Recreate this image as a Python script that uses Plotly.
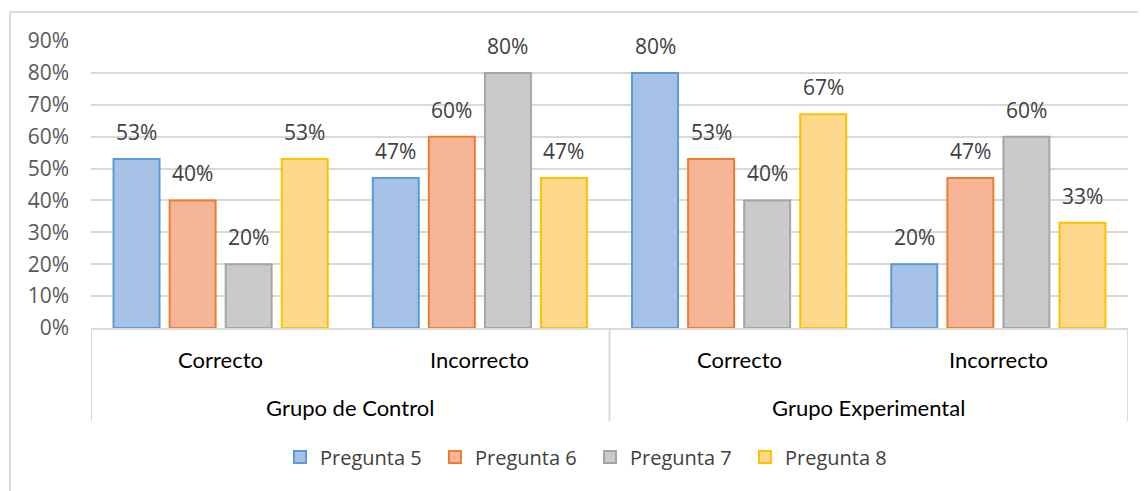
import plotly.graph_objects as go

# ---- data ----
categories = ["Control|Correcto", "Control|Incorrecto", "Experimental|Correcto", "Experimental|Incorrecto"]
sub_labels = ["Correcto", "Incorrecto", "Correcto", "Incorrecto"]
group_labels = ["Grupo de Control", "Grupo Experimental"]
group_centers = [0.5, 2.5]
series_names = ["Pregunta 5", "Pregunta 6", "Pregunta 7", "Pregunta 8"]
pregunta5 = [0.53, 0.47, 0.80, 0.20]
pregunta6 = [0.40, 0.60, 0.53, 0.47]
pregunta7 = [0.20, 0.80, 0.40, 0.60]
pregunta8 = [0.53, 0.47, 0.67, 0.33]
series_values = [pregunta5, pregunta6, pregunta7, pregunta8]
y_ticks = [0, 0.1, 0.2, 0.3, 0.4, 0.5, 0.6, 0.7, 0.8, 0.9]

# ---- styles ----
fills = ["#a6c3e7", "#f6b597", "#cacaca", "#fed98b"]
borders = ["#5b9bd5", "#ed7d31", "#a5a5a5", "#ffc000"]
OFF = 8  # page body margin
W, H = 1146, 491
ML, MT = 91 - OFF, 41 - OFF
plot_w = 1128 - 91
plot_h = 328 - 41
MR = W - ML - plot_w
MB = H - MT - plot_h
BARGAP = 0.135
BARGROUPGAP = 0.18
slot_px = plot_w / len(categories) * (1 - BARGAP) / len(series_names)

num_font = "Open Sans, sans-serif"
cat_font = "Lato, sans-serif"

fig = go.Figure()
for i, (name, vals) in enumerate(zip(series_names, series_values)):
    fig.add_trace(go.Bar(
        name=name, x=categories, y=vals,
        marker=dict(color=fills[i], line=dict(color=borders[i], width=2)),
        hoverinfo="skip",
    ))
    for cat, v in zip(categories, vals):
        fig.add_annotation(
            x=cat, y=v, xref="x", yref="y", text=f"{round(v*100):d}%",
            showarrow=False, xshift=(i - 1.5) * slot_px, yshift=27,
            yanchor="middle", font=dict(family=num_font, size=21, color="#404040"),
        )

# category labels
for cat, lab in zip(categories, sub_labels):
    fig.add_annotation(x=cat, y=-31 / plot_h, xref="x", yref="paper", text=lab,
                       showarrow=False, yanchor="middle",
                       font=dict(family=cat_font, size=22, color="#000000"))
for gx, lab in zip(group_centers, group_labels):
    fig.add_annotation(x=gx, y=-79 / plot_h, xref="x", yref="paper", text=lab,
                       showarrow=False, yanchor="middle",
                       font=dict(family=cat_font, size=22, color="#000000"))

line_col = "#d9d9d9"
box_bottom = -93 / plot_h
for xv in [-0.5, 1.5, 3.5]:
    fig.add_shape(type="line", xref="x", yref="paper", x0=xv, x1=xv, y0=0, y1=box_bottom,
                  line=dict(color=line_col, width=2))
# outer chart border (screen x=10, y=12)
bx = (10 - 91) / plot_w
by = (328 - 12) / plot_h
fig.add_shape(type="line", xref="paper", yref="paper",
              x0=bx, x1=(W + 20 - 91) / plot_w, y0=by, y1=by,
              line=dict(color=line_col, width=2))
fig.add_shape(type="line", xref="paper", yref="paper",
              x0=bx, x1=bx, y0=by, y1=-(H + 20 - 328) / plot_h,
              line=dict(color=line_col, width=2))

fig.update_layout(
    width=W, height=H, margin=dict(l=ML, r=MR, t=MT, b=MB),
    paper_bgcolor="white", plot_bgcolor="white",
    barmode="group", bargap=BARGAP, bargroupgap=BARGROUPGAP,
    showlegend=True,
    legend=dict(orientation="h", x=(590 - 91) / plot_w, xanchor="center",
                y=-129 / plot_h, yanchor="middle",
                font=dict(family=num_font, size=20, color="#404040"),
                entrywidth=110, traceorder="normal"),
    xaxis=dict(type="category", showticklabels=False, showgrid=False,
               showline=True, linecolor=line_col, linewidth=2,
               range=[-0.5, 3.5], fixedrange=True, ticks=""),
    yaxis=dict(range=[0, 0.9], tickvals=y_ticks, tickformat=".0%",
               showgrid=True, gridcolor=line_col, gridwidth=2,
               zeroline=False, showline=False, ticks="",
               tickfont=dict(family=num_font, size=21, color="#595959"),
               ticklabelstandoff=21),
)

fig.write_html("out.html")
